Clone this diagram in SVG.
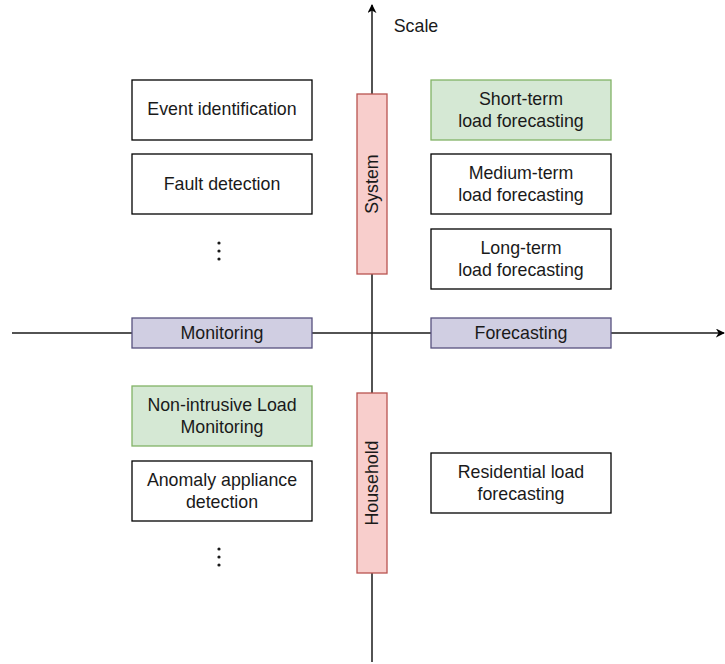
<svg xmlns="http://www.w3.org/2000/svg" width="725" height="664" viewBox="0 0 725 664">
<style>
text{font-family:"Liberation Sans",Arial,Helvetica,sans-serif;font-size:17.8px;fill:#1a1a1a;text-anchor:middle}
.box{fill:#fff;stroke:#000;stroke-width:1.3}
.green{fill:#d5e8d4;stroke:#82b366;stroke-width:1.3}
.red{fill:#f8cecc;stroke:#b85450;stroke-width:1.3}
.purple{fill:#d0cee2;stroke:#56517e;stroke-width:1.3}
.axis{stroke:#1a1a1a;stroke-width:1.5;fill:none}
.dot{fill:#1a1a1a}
</style>
<defs>
<marker id="arr" viewBox="0 0 10 10" refX="9" refY="5" markerWidth="9" markerHeight="9" markerUnits="userSpaceOnUse" orient="auto">
<path d="M0,0 L10,5 L0,10 L3,5 Z" fill="#000"/>
</marker>
</defs>
<g id="connectors">
<line class="axis" x1="372" y1="662" x2="372" y2="5" marker-end="url(#arr)"/>
<line class="axis" x1="12" y1="333" x2="724" y2="333" marker-end="url(#arr)"/>
</g>
<g id="scale-label"><text x="416" y="32">Scale</text></g>
<g id="event-identification"><rect class="box" x="132" y="80" width="180" height="60"/><text x="222" y="115">Event identification</text></g>
<g id="fault-detection"><rect class="box" x="132" y="154" width="180" height="60"/><text x="222" y="190">Fault detection</text></g>
<g id="dots-top"><circle class="dot" cx="219" cy="243" r="1.6"/><circle class="dot" cx="219" cy="251" r="1.6"/><circle class="dot" cx="219" cy="259" r="1.6"/></g>
<g id="system"><rect class="red" x="357" y="94" width="30" height="180"/><text transform="translate(378,184) rotate(-90)">System</text></g>
<g id="short-term"><rect class="green" x="431" y="80" width="180" height="60"/><text x="521" y="105">Short-term</text><text x="521" y="127">load forecasting</text></g>
<g id="medium-term"><rect class="box" x="431" y="154" width="180" height="60"/><text x="521" y="179">Medium-term</text><text x="521" y="201">load forecasting</text></g>
<g id="long-term"><rect class="box" x="431" y="229" width="180" height="60"/><text x="521" y="254">Long-term</text><text x="521" y="276">load forecasting</text></g>
<g id="monitoring"><rect class="purple" x="132" y="318" width="180" height="30"/><text x="222" y="339">Monitoring</text></g>
<g id="forecasting"><rect class="purple" x="431" y="318" width="180" height="30"/><text x="521" y="339">Forecasting</text></g>
<g id="nilm"><rect class="green" x="132" y="386" width="180" height="60"/><text x="222" y="411">Non-intrusive Load</text><text x="222" y="433">Monitoring</text></g>
<g id="anomaly"><rect class="box" x="132" y="461" width="180" height="60"/><text x="222" y="486">Anomaly appliance</text><text x="222" y="508">detection</text></g>
<g id="dots-bottom"><circle class="dot" cx="219" cy="549" r="1.6"/><circle class="dot" cx="219" cy="557" r="1.6"/><circle class="dot" cx="219" cy="565" r="1.6"/></g>
<g id="household"><rect class="red" x="357" y="393" width="30" height="180"/><text transform="translate(378,483) rotate(-90)">Household</text></g>
<g id="residential"><rect class="box" x="431" y="453" width="180" height="60"/><text x="521" y="478">Residential load</text><text x="521" y="500">forecasting</text></g>
</svg>
